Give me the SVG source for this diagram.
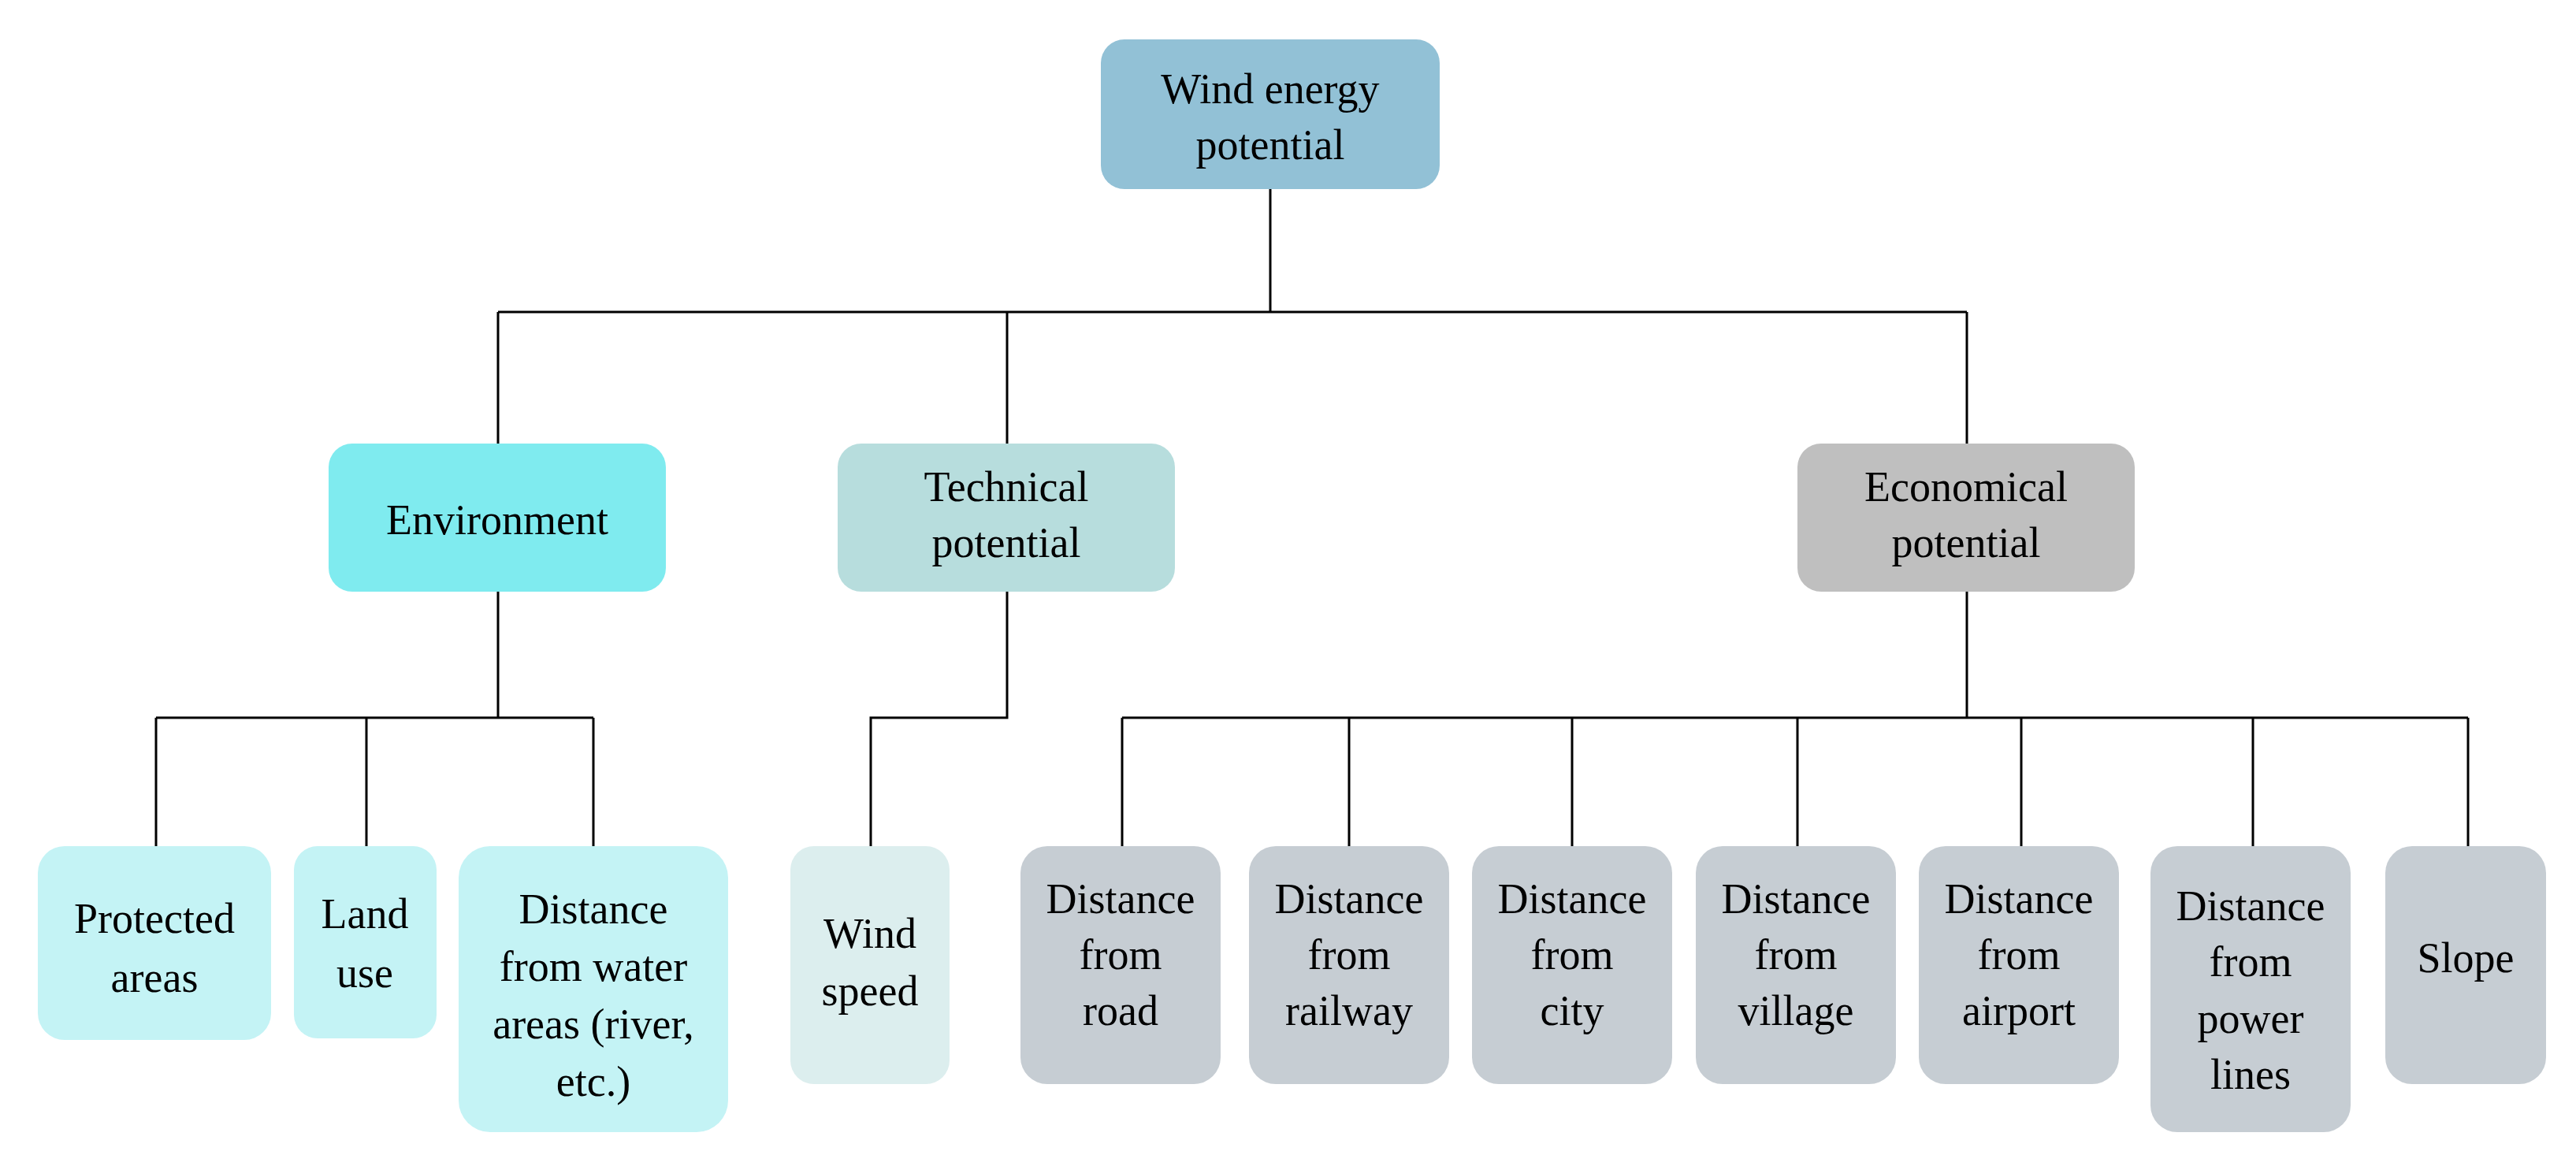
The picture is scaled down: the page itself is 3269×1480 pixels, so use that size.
<svg xmlns="http://www.w3.org/2000/svg" width="3269" height="1480" viewBox="0 0 3269 1480">
<style>
text{font-family:"Liberation Serif","Times New Roman",serif;font-size:54px;fill:#000;text-anchor:middle}
.c{fill:none;stroke:#000;stroke-width:3}
.g{fill:#C6CDD3}
.l{fill:#C4F3F5}
</style>
<rect width="3269" height="1480" fill="#fff"/>
<g id="connectors">
<path class="c" d="M1612 240V396M632 396H2496M632 396V563M1278 396V563M2496 396V563"/>
<path class="c" d="M632 751V911M198 911H753M198 911V1074M465 911V1074M753 911V1074" />
<path class="c" d="M1278 751V911H1105V1074"/>
<path class="c" d="M2496 751V911M1424 911H3132M1424 911V1074M1712 911V1074M1995 911V1074M2281 911V1074M2565 911V1074M2859 911V1074M3132 911V1074"/>
</g>
<g id="root"><rect x="1397" y="50" width="430" height="190" rx="30" fill="#92C1D6"/><text x="1612" y="131">Wind energy</text><text x="1612" y="202">potential</text></g>
<g id="env"><rect x="417" y="563" width="428" height="188" rx="30" fill="#7FEBEF"/><text x="631" y="678">Environment</text></g>
<g id="tech"><rect x="1063" y="563" width="428" height="188" rx="30" fill="#B7DDDD"/><text x="1277" y="636">Technical</text><text x="1277" y="707">potential</text></g>
<g id="econ"><rect x="2281" y="563" width="428" height="188" rx="30" fill="#BFBFBF"/><text x="2495" y="636">Economical</text><text x="2495" y="707">potential</text></g>
<g id="protected"><rect class="l" x="48" y="1074" width="296" height="246" rx="34"/><text x="196" y="1184">Protected</text><text x="196" y="1259">areas</text></g>
<g id="landuse"><rect class="l" x="373" y="1074" width="181" height="244" rx="30"/><text x="463" y="1178">Land</text><text x="463" y="1253">use</text></g>
<g id="water"><rect class="l" x="582" y="1074" width="342" height="363" rx="40"/><text x="753" y="1172">Distance</text><text x="753" y="1245">from water</text><text x="753" y="1318">areas (river,</text><text x="753" y="1391">etc.)</text></g>
<g id="wind"><rect x="1003" y="1074" width="202" height="302" rx="30" fill="#DCEEEE"/><text x="1104" y="1203">Wind</text><text x="1104" y="1276">speed</text></g>
<g id="road"><rect class="g" x="1295" y="1074" width="254" height="302" rx="34"/><text x="1422" y="1159">Distance</text><text x="1422" y="1230">from</text><text x="1422" y="1301">road</text></g>
<g id="railway"><rect class="g" x="1585" y="1074" width="254" height="302" rx="34"/><text x="1712" y="1159">Distance</text><text x="1712" y="1230">from</text><text x="1712" y="1301">railway</text></g>
<g id="city"><rect class="g" x="1868" y="1074" width="254" height="302" rx="34"/><text x="1995" y="1159">Distance</text><text x="1995" y="1230">from</text><text x="1995" y="1301">city</text></g>
<g id="village"><rect class="g" x="2152" y="1074" width="254" height="302" rx="34"/><text x="2279" y="1159">Distance</text><text x="2279" y="1230">from</text><text x="2279" y="1301">village</text></g>
<g id="airport"><rect class="g" x="2435" y="1074" width="254" height="302" rx="34"/><text x="2562" y="1159">Distance</text><text x="2562" y="1230">from</text><text x="2562" y="1301">airport</text></g>
<g id="power"><rect class="g" x="2729" y="1074" width="254" height="363" rx="34"/><text x="2856" y="1168">Distance</text><text x="2856" y="1239">from</text><text x="2856" y="1311">power</text><text x="2856" y="1382">lines</text></g>
<g id="slope"><rect class="g" x="3027" y="1074" width="204" height="302" rx="34"/><text x="3129" y="1234">Slope</text></g>
</svg>
